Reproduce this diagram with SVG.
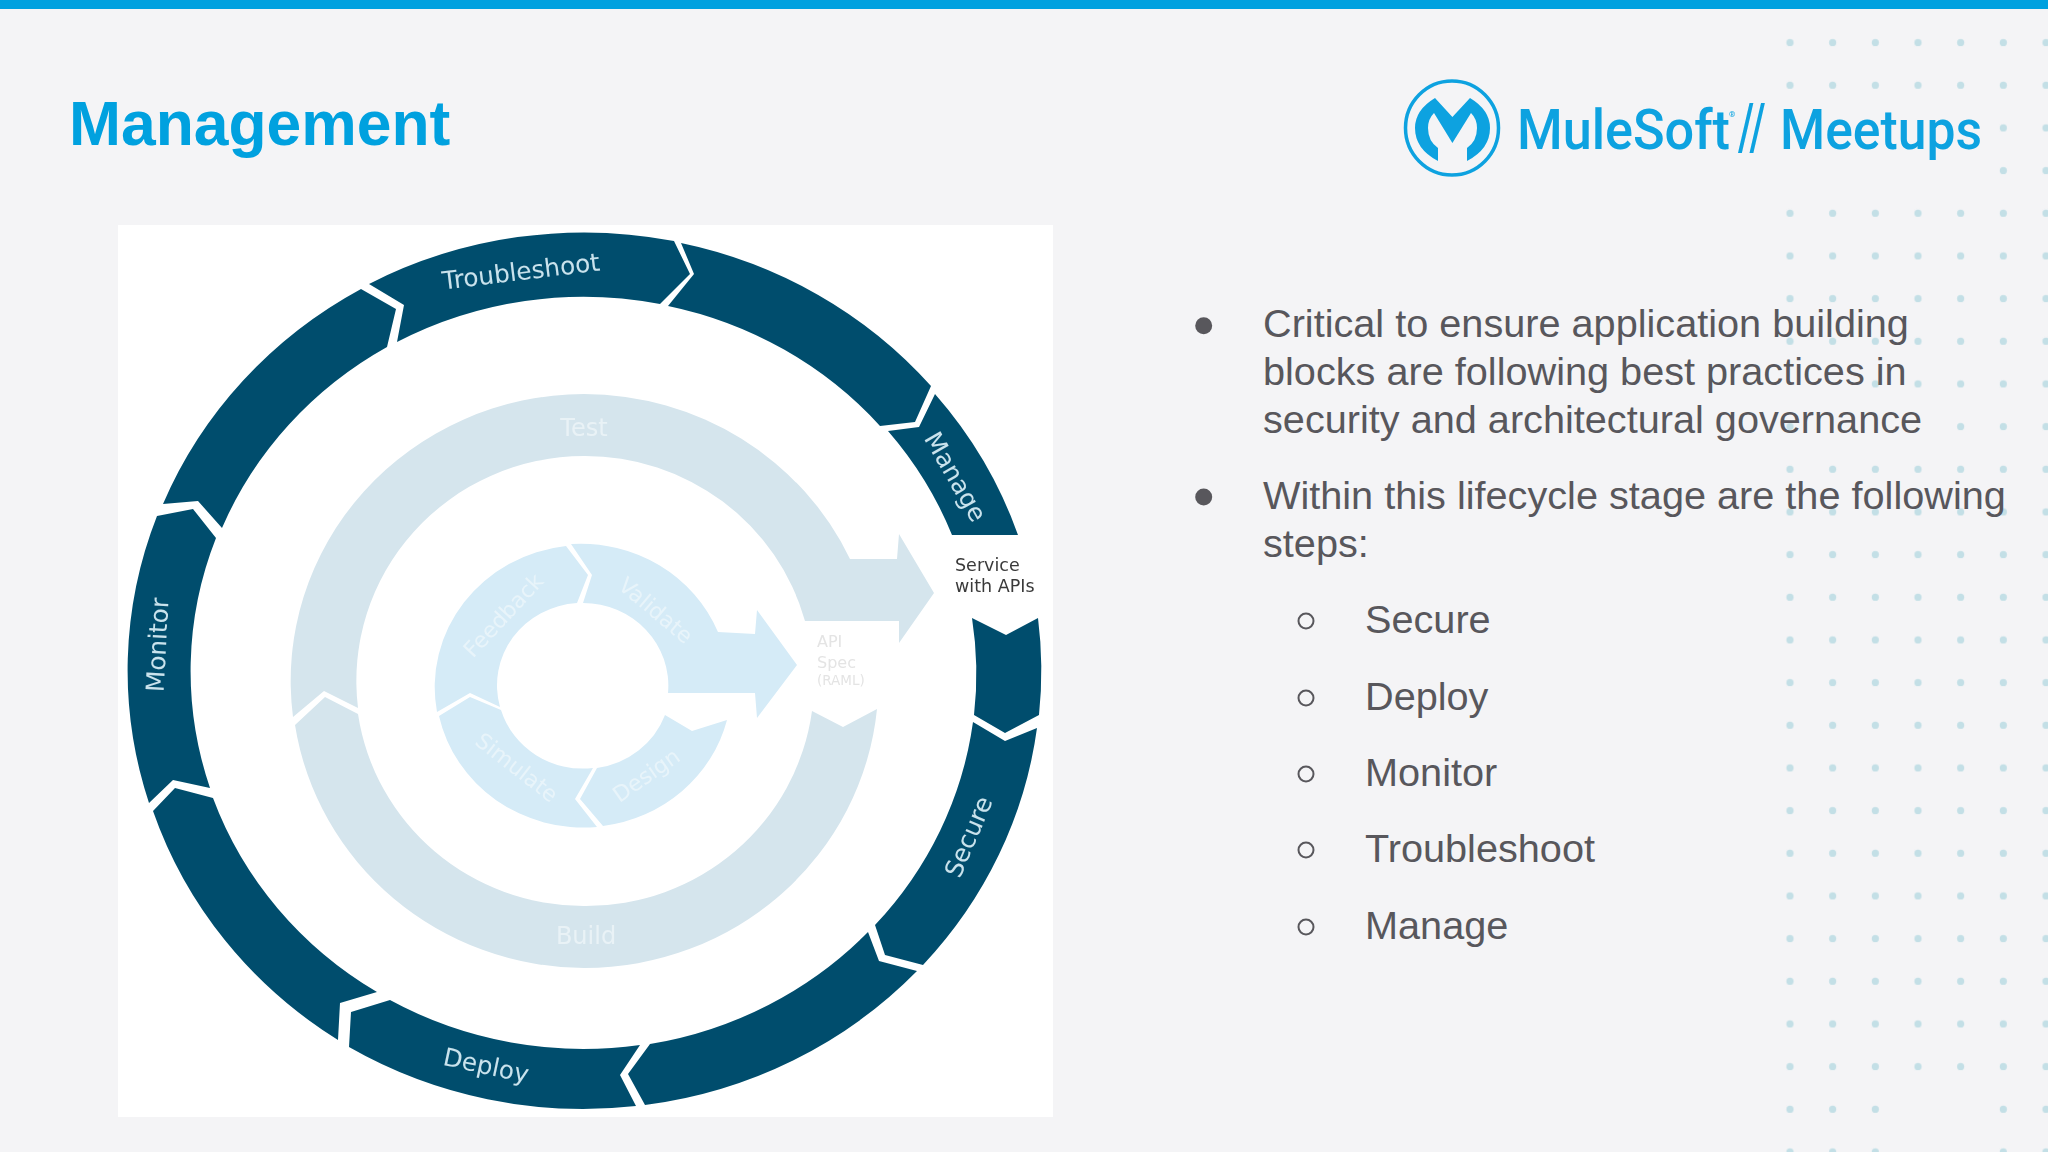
<svg xmlns="http://www.w3.org/2000/svg" width="2048" height="1152" viewBox="0 0 2048 1152">
<style>
.dark{fill:#064e6d}
.mid{fill:#d5e5ed}
.pale{fill:#d5ebf7}
.ol{font-family:"DejaVu Sans",sans-serif;font-size:24.8px;fill:#c9e3ed;text-anchor:middle}
.ml{font-family:"DejaVu Sans",sans-serif;font-size:24px;fill:#e9f2f6;text-anchor:middle}
.il{font-family:"DejaVu Sans",sans-serif;font-size:22px;fill:#e8f4fa;text-anchor:middle}
.svc{font-family:"DejaVu Sans",sans-serif;font-size:17.5px;fill:#3a3a3a}
.spec{font-family:"DejaVu Sans",sans-serif;fill:#e4e4e4}
.body{font-family:"Liberation Sans",Arial,sans-serif;font-size:39.67px;fill:#58575c}
.bg{fill:#f4f4f6}
.sub{fill:none;stroke:#58575c;stroke-width:2}
.logo{font-family:Roboto,"Liberation Sans",sans-serif;font-weight:500;fill:#0ca2e0}
</style>
<defs>
<pattern id="dots" patternUnits="userSpaceOnUse" x="1768.67" y="21.33" width="42.667" height="42.667">
<circle cx="21.33" cy="21.33" r="3.6" fill="#c3dfe6"/>
</pattern>
<filter id="soft" x="-5%" y="-5%" width="110%" height="110%"><feGaussianBlur stdDeviation="0.7"/></filter>
</defs>
<rect width="2048" height="1152" class="bg"/>
<rect width="2048" height="9" fill="#00a1df"/>
<g id="dot-grid" filter="url(#soft)">
<rect x="1768" y="21" width="280" height="1131" fill="url(#dots)"/>
<rect class="bg" x="1770" y="108" width="215" height="84"/>
<rect class="bg" x="1770" y="373" width="86" height="22"/>
<rect class="bg" x="1812" y="416" width="128" height="22"/>
<rect class="bg" x="1898" y="1090" width="84" height="62"/>
</g>
<text id="title" x="69" y="144.5" font-family="Liberation Sans, Arial, sans-serif" font-weight="700" font-size="62.4" fill="#00a1df">Management</text>
<g id="logo" filter="url(#soft)">
<ellipse cx="1452" cy="128" rx="46.5" ry="47" fill="none" stroke="#0ca2e0" stroke-width="3.5"/>
<path fill="#0ca2e0" d="M1435 98L1452.4 117L1470 98Q1490 110 1490 128Q1490 149 1467 161L1467 148Q1477 141 1477 128Q1477 119 1471 113L1452.4 143L1434 113Q1428 119 1428 128Q1428 141 1438 148L1438 161Q1415 149 1415 128Q1415 110 1435 98Z"/>
<text class="logo" x="1517" y="149" font-size="56" textLength="213" lengthAdjust="spacingAndGlyphs">MuleSoft</text>
<text class="logo" x="1729" y="117" font-size="8">®</text>
<text class="logo" transform="translate(1738 149) scale(.65 1)" font-size="64">//</text>
<text class="logo" x="1780" y="149" font-size="56" textLength="202" lengthAdjust="spacingAndGlyphs">Meetups</text>
</g>
<rect id="panel" x="118" y="225" width="935" height="892" fill="#fff"/>
<g id="outer-ring" filter="url(#soft)">
<g id="troubleshoot"><path class="dark" d="M369 284A457 438 0 0 1 674 241L690 274L660 304A392 376 0 0 0 397 342L404 305Z"/><text class="ol" transform="translate(521 272) rotate(-7)" y="8">Troubleshoot</text></g>
<g id="manage-lead"><path class="dark" d="M681 243A457 438 0 0 1 931 386L915 422L880 426A392 376 0 0 0 668 306L694 274Z"/></g>
<g id="manage"><path class="dark" d="M935 394A457 438 0 0 1 1018 535L952 535A392 376 0 0 0 888 431L919 427Z"/><text class="ol" transform="translate(955 477) rotate(60)" y="8">Manage</text></g>
<g id="service-tail"><path class="dark" d="M1038 618A457 438 0 0 1 1039 715L1005 733L974 715A392 376 0 0 0 972 618L1006 635Z"/></g>
<g id="secure"><path class="dark" d="M1037 728A457 438 0 0 1 923 965L885 955L875 925A392 376 0 0 0 973 722L1005 741Z"/><text class="ol" transform="translate(969 837) rotate(-67)" y="8">Secure</text></g>
<g id="deploy-lead"><path class="dark" d="M917 971A457 438 0 0 1 645 1105L628 1074L650 1044A392 376 0 0 0 868 932L879 961Z"/></g>
<g id="deploy"><path class="dark" d="M636 1106A457 438 0 0 1 349 1047L351 1012L390 1000A392 376 0 0 0 640 1045L620 1075Z"/><text class="ol" transform="translate(486 1066) rotate(12)" y="8">Deploy</text></g>
<g id="monitor-lead"><path class="dark" d="M338 1040A457 438 0 0 1 153 811L175 788L213 798A392 376 0 0 0 377 992L340 1003Z"/></g>
<g id="monitor"><path class="dark" d="M149 803A457 438 0 0 1 157 516L193 509L216 538A392 376 0 0 0 210 788L173 780Z"/><text class="ol" transform="translate(158 645) rotate(-87)" y="8">Monitor</text></g>
<g id="troubleshoot-lead"><path class="dark" d="M163 504A457 438 0 0 1 361 289L396 309L387 347A392 376 0 0 0 222 528L198 501Z"/></g>
</g>
<g id="service-with-apis"><text class="svc" x="955" y="571">Service</text><text class="svc" x="955" y="592">with APIs</text></g>
<g id="middle-ring" filter="url(#soft)">
<g id="test"><path class="mid" d="M293 717A294 287 0 0 1 584 394A294 287 0 0 1 850 559L897 559L899 534L934 593L899 643L899 621L805 621A228 225 0 0 0 584 456A228 225 0 0 0 358 708L324 691Z"/><text class="ml" x="584" y="436">Test</text></g>
<g id="build"><path class="mid" d="M877 709A294 287 0 0 1 584 968A294 287 0 0 1 295 725L325 697L358 714A228 225 0 0 0 584 906A228 225 0 0 0 812 711L843 727Z"/><text class="ml" x="586" y="944">Build</text></g>
</g>
<g id="api-spec"><text class="spec" x="817" y="647" font-size="16">API</text><text class="spec" x="817" y="668" font-size="16">Spec</text><text class="spec" x="817" y="685" font-size="13.5">(RAML)</text></g>
<g id="inner-ring" filter="url(#soft)">
<g id="feedback"><path class="pale" d="M437 712A148 142 0 0 1 566 546L588 575L577 603A85.5 82.5 0 0 0 500 707L470 693Z"/><text class="il" transform="translate(503 615) rotate(-47)" y="8">Feedback</text></g>
<g id="validate"><path class="pale" d="M571 544A148 142 0 0 1 718 632L755 634L757 610L797 665L757 718L755 693L668 693A85.5 82.5 0 0 0 583 603L592 575Z"/><text class="il" transform="translate(656 610) rotate(40)" y="8">Validate</text></g>
<g id="simulate"><path class="pale" d="M597 827A148 142 0 0 1 439 716L470 697L501 710A85.5 82.5 0 0 0 593 768L575 799Z"/><text class="il" transform="translate(517 767) rotate(38)" y="8">Simulate</text></g>
<g id="design"><path class="pale" d="M727 720A148 142 0 0 1 603 826L580 799L597 768A85.5 82.5 0 0 0 665 715L692 731Z"/><text class="il" transform="translate(646 775) rotate(-35)" y="8">Design</text></g>
</g>
<g id="bullets">
<circle cx="1203.7" cy="325.7" r="8.5" fill="#58575c"/>
<text class="body" x="1263" y="337">Critical to ensure application building</text>
<text class="body" x="1263" y="385">blocks are following best practices in</text>
<text class="body" x="1263" y="433">security and architectural governance</text>
<circle cx="1203.7" cy="497" r="8.5" fill="#58575c"/>
<text class="body" x="1263" y="509">Within this lifecycle stage are the following</text>
<text class="body" x="1263" y="557">steps:</text>
<circle class="sub" cx="1306" cy="621" r="7.5"/><text class="body" x="1365" y="633">Secure</text>
<circle class="sub" cx="1306" cy="698" r="7.5"/><text class="body" x="1365" y="710">Deploy</text>
<circle class="sub" cx="1306" cy="774" r="7.5"/><text class="body" x="1365" y="786">Monitor</text>
<circle class="sub" cx="1306" cy="850" r="7.5"/><text class="body" x="1365" y="862">Troubleshoot</text>
<circle class="sub" cx="1306" cy="927" r="7.5"/><text class="body" x="1365" y="939">Manage</text>
</g>
</svg>
